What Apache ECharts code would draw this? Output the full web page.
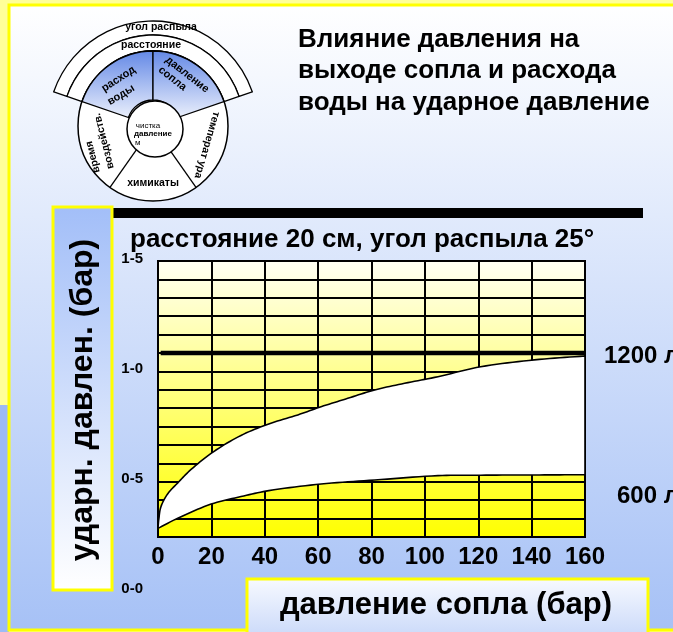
<!DOCTYPE html>
<html>
<head>
<meta charset="utf-8">
<script src="https://cdn.jsdelivr.net/npm/echarts@6/dist/echarts.min.js"></script>
<style>html,body{margin:0;padding:0;background:#FFFF99;}#c{width:673px;height:632px;}</style>
</head>
<body>
<div id="c"></div>
<script>
// ---- data ----
const xTicks = [0, 20, 40, 60, 80, 100, 120, 140, 160];
const yTickLabels = ['0-0', '0-5', '1-0', '1-5'];
// upper boundary (1200 l) of the white band
const upperX = [0, 0.3, 1.1, 3.6, 7.4, 12.4, 20.9, 31.1, 41.5, 52.4, 61.1, 71.1, 81.2, 92.4, 104.9, 120.9, 141, 160];
const upperY = [0.289, 0.33, 0.387, 0.445, 0.495, 0.556, 0.637, 0.71, 0.762, 0.803, 0.840, 0.878, 0.916, 0.946, 0.976, 1.021, 1.052, 1.07];
// lower boundary (600 l)
const lowerX = [0, 7.4, 19.9, 31.1, 41.5, 61.1, 81.2, 104.9, 120.9, 141, 160];
const lowerY = [0.289, 0.335, 0.399, 0.433, 0.460, 0.490, 0.508, 0.528, 0.530, 0.531, 0.532];
// thick reference line
const refLineX = [1, 160];
const refLevel = 1.0833;
const seriesNames = ['1200 л', '600 л'];

const FF = '"Liberation Sans", Arial, sans-serif';
const chart = echarts.init(document.getElementById('c'), null, {renderer: 'canvas'});
const LG = echarts.graphic.LinearGradient;
const deg = Math.PI / 180;

// smooth drawing of a pixel polyline (rendering only, data untouched)
function smoothPx(p) {
  const n = p.length, out = [p[0]];
  const dir = i => {
    const a = p[Math.max(0, i - 1)], b = p[Math.min(n - 1, i + 1)];
    const dx = b[0] - a[0], dy = b[1] - a[1], l = Math.hypot(dx, dy) || 1;
    return [dx / l, dy / l];
  };
  for (let i = 0; i < n - 1; i++) {
    const a = p[i], b = p[i + 1], d = Math.hypot(b[0] - a[0], b[1] - a[1]) / 3;
    const ta = dir(i), tb = dir(i + 1);
    const c1 = [a[0] + ta[0] * d, a[1] + ta[1] * d], c2 = [b[0] - tb[0] * d, b[1] - tb[1] * d];
    for (let k = 1; k <= 10; k++) {
      const t = k / 10, u = 1 - t;
      out.push([
        u * u * u * a[0] + 3 * u * u * t * c1[0] + 3 * u * t * t * c2[0] + t * t * t * b[0],
        u * u * u * a[1] + 3 * u * u * t * c1[1] + 3 * u * t * t * c2[1] + t * t * t * b[1]
      ]);
    }
  }
  return out;
}

// wheel diagram (decoration)
const cx = 153, cy = 126;
function radial(a, r0, r1) {
  return {type: 'line', z: 5, shape: {x1: cx + r0 * Math.cos(a * deg), y1: cy + r0 * Math.sin(a * deg), x2: cx + r1 * Math.cos(a * deg), y2: cy + r1 * Math.sin(a * deg)}, style: {stroke: '#000', lineWidth: 1.3}};
}
function wtxt(t, x, y, rot, size, weight, align) {
  return {type: 'text', z: 6, x: x, y: y, rotation: rot * deg, style: {text: t, fill: '#000', font: (weight || 'bold') + ' ' + size + 'px ' + FF, align: align || 'center', verticalAlign: 'middle'}};
}
const blueGrad = new LG(0, 51, 0, 128, [{offset: 0, color: '#6489E6'}, {offset: 1, color: '#FFFFFF'}], true);

const graphics = [
  // slide panel
  {type: 'rect', z: -20, shape: {x: 0, y: 405, width: 9, height: 227}, style: {fill: '#9DBAF5'}},
  {type: 'rect', z: -19, shape: {x: 9, y: 5, width: 700, height: 625},
   style: {fill: new LG(0, 0, 0, 1, [{offset: 0, color: '#FFFFFF'}, {offset: 1, color: '#A6C1F6'}]), stroke: '#FFFF00', lineWidth: 3}},
  // black bar
  {type: 'rect', z: 1, shape: {x: 113, y: 208, width: 530, height: 10}, style: {fill: '#000'}},
  // y name box
  {type: 'rect', z: 1, shape: {x: 53, y: 207, width: 59, height: 383},
   style: {fill: new LG(0, 0, 0, 1, [{offset: 0, color: '#A2BEF8'}, {offset: 1, color: '#FFFFFF'}]), stroke: '#FFFF00', lineWidth: 3}},
  {type: 'text', z: 2, x: 83, y: 400, rotation: Math.PI / 2,
   style: {text: 'ударн. давлен. (бар)', fill: '#000', font: 'bold 32px ' + FF, align: 'center', verticalAlign: 'middle'}},
  // x name box
  {type: 'rect', z: 1, shape: {x: 247, y: 579, width: 401, height: 70},
   style: {fill: new LG(0, 0, 0, 1, [{offset: 0, color: '#F8FAFF'}, {offset: 1, color: '#C0D2F8'}]), stroke: '#FFFF00', lineWidth: 3}},
  {type: 'text', z: 2, x: 446, y: 605,
   style: {text: 'давление сопла (бар)', fill: '#000', font: 'bold 31px ' + FF, align: 'center', verticalAlign: 'middle'}},
  // series end labels
  {type: 'text', z: 2, x: 604, y: 356, style: {text: seriesNames[0], fill: '#000', font: 'bold 24px ' + FF, align: 'left', verticalAlign: 'middle'}},
  {type: 'text', z: 2, x: 617, y: 496, style: {text: seriesNames[1], fill: '#000', font: 'bold 24px ' + FF, align: 'left', verticalAlign: 'middle'}},
  // wheel
  {type: 'sector', z: 3, shape: {cx: cx, cy: cy, r0: 91, r: 105, startAngle: -161 * deg, endAngle: -19 * deg, clockwise: true}, style: {fill: '#fff', stroke: '#000', lineWidth: 1.3}},
  {type: 'sector', z: 3, shape: {cx: cx, cy: cy, r0: 75, r: 91, startAngle: -161 * deg, endAngle: -19 * deg, clockwise: true}, style: {fill: '#fff', stroke: '#000', lineWidth: 1.3}},
  {type: 'circle', z: 4, shape: {cx: cx, cy: cy, r: 75}, style: {fill: '#fff', stroke: '#000', lineWidth: 1.5}},
  {type: 'sector', z: 4, shape: {cx: cx, cy: cy, r0: 26, r: 75, startAngle: -161 * deg, endAngle: -90 * deg, clockwise: true}, style: {fill: blueGrad, stroke: '#000', lineWidth: 1.3}},
  {type: 'sector', z: 4, shape: {cx: cx, cy: cy, r0: 26, r: 75, startAngle: -90 * deg, endAngle: -19 * deg, clockwise: true}, style: {fill: blueGrad, stroke: '#000', lineWidth: 1.3}},
  radial(125, 26, 75), radial(55, 26, 75),
  {type: 'circle', z: 5, shape: {cx: 155, cy: 129, r: 28}, style: {fill: '#fff', stroke: '#000', lineWidth: 1.5}},
  wtxt('угол распыла', 161, 27, 0, 10.5),
  wtxt('расстояние', 151, 45, 0, 10.5),
  wtxt('расход', 118.5, 79, 33, 11),
  wtxt('воды', 121, 95, 31, 11),
  wtxt('давление', 166.5, 58.5, -38, 11, 'bold', 'left'),
  wtxt('сопла', 159.5, 68.5, -38, 11, 'bold', 'left'),
  wtxt('чистка', 148, 125.5, 0, 8, 'normal'),
  wtxt('давление', 153, 134, 0, 8),
  wtxt('м', 135, 142.5, 0, 8, 'normal', 'left'),
  wtxt('температ ура', 207, 145, -106, 10.5),
  wtxt('химикаты', 153, 183.5, 0, 10.5),
  wtxt('время', 93, 157, 104, 10.5),
  wtxt('воздейств.', 104, 141, 104, 10.5)
];

const option = {
  backgroundColor: '#FFFF99',
  animation: false,
  title: [
    {text: 'Влияние давления на\nвыходе сопла и расхода\nводы на ударное давление', left: 298, top: 24, padding: 0,
     textStyle: {fontFamily: FF, fontSize: 26, fontWeight: 'bold', lineHeight: 31.5, color: '#000'}},
    {text: 'расстояние 20 см, угол распыла 25°', left: 130, top: 225, padding: 0,
     textStyle: {fontFamily: FF, fontSize: 26, fontWeight: 'bold', lineHeight: 30, color: '#000'}}
  ],
  graphic: graphics,
  grid: [
    {left: 158, top: 261, width: 427, height: 276, show: true, borderColor: '#000', borderWidth: 2,
     backgroundColor: new LG(0, 0, 0, 1, [{offset: 0, color: '#FFFFF4'}, {offset: 1, color: '#FFFF00'}])},
    {left: 158, top: 259, width: 427, height: 330, show: false}
  ],
  xAxis: [
    {gridIndex: 0, type: 'value', min: xTicks[0], max: xTicks[xTicks.length - 1], interval: xTicks[1] - xTicks[0],
     axisLine: {show: false}, axisTick: {show: false},
     splitLine: {show: true, lineStyle: {color: '#000', width: 2}},
     axisLabel: {margin: 8, color: '#000', fontFamily: FF, fontSize: 24, fontWeight: 'bold'}},
    {gridIndex: 1, type: 'value', min: 0, max: 160, show: false}
  ],
  yAxis: [
    {gridIndex: 0, type: 'value', min: 0.25, max: 1.5, interval: 1 / 12,
     axisLine: {show: false}, axisTick: {show: false}, axisLabel: {show: false},
     splitLine: {show: true, lineStyle: {color: '#000', width: 2}}},
    {gridIndex: 1, type: 'value', min: 0, max: 1.5, interval: 0.5,
     axisLine: {show: false}, axisTick: {show: false}, splitLine: {show: false},
     axisLabel: {margin: 15, color: '#000', fontFamily: FF, fontSize: 15, fontWeight: 'bold',
       formatter: v => yTickLabels[Math.round(v / 0.5)]}}
  ],
  series: [
    {type: 'custom', name: 'band', xAxisIndex: 0, yAxisIndex: 0, data: [0], clip: false, z: 3,
     renderItem: function (params, api) {
       const up = upperX.map((x, i) => api.coord([x, upperY[i]]));
       const lo = lowerX.map((x, i) => api.coord([x, lowerY[i]]));
       const pts = smoothPx(up).concat(smoothPx(lo).reverse());
       return {type: 'polygon', shape: {points: pts}, style: {fill: '#FFFFFF', stroke: '#000', lineWidth: 1.6, lineJoin: 'round'}};
     }},
    {type: 'line', name: 'ref', xAxisIndex: 0, yAxisIndex: 0, z: 4, symbol: 'none', silent: true,
     data: refLineX.map(x => [x, refLevel]), lineStyle: {color: '#000', width: 4.5}}
  ]
};
chart.setOption(option);
</script>
</body>
</html>
